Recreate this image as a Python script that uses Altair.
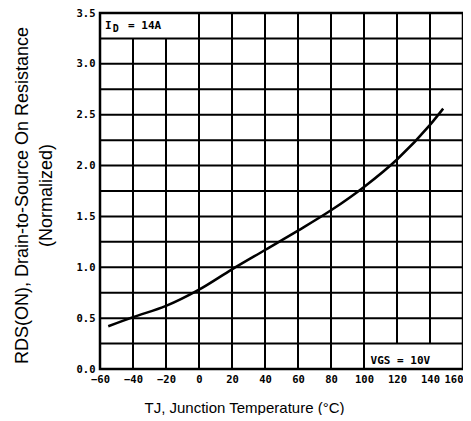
import altair as alt
import pandas as pd

# Curve: normalized on-resistance vs junction temperature
temp_c = [-55, -40, -20, 0, 20, 40, 60, 80, 100, 120, 140, 148]
rds_norm = [0.42, 0.51, 0.62, 0.78, 0.98, 1.17, 1.36, 1.56, 1.79, 2.06, 2.40, 2.56]

# Axis ticks
x_ticks = [-60, -40, -20, 0, 20, 40, 60, 80, 100, 120, 140, 160]
y_ticks = [0.0, 0.5, 1.0, 1.5, 2.0, 2.5, 3.0, 3.5]

# Grid (vertical lines are interrupted by the two label boxes)
grid_x = [-40, -20, 0, 20, 40, 60, 80, 100, 120, 140]
grid_x_from = [0, 0, 0, 0, 0, 0, 0, 0, 0.25, 0.25]
grid_x_to = [3.25, 3.25, 3.5, 3.5, 3.5, 3.5, 3.5, 3.5, 3.5, 3.5]
grid_y = [0.25, 0.5, 0.75, 1.0, 1.25, 1.5, 1.75, 2.0, 2.25, 2.5, 2.75, 3.0, 3.25]

# Annotations
ann_x = [-57, -52.3, -43, 104]
ann_y = [3.375, 3.375, 3.375, 0.08]
ann_text = ["I", "D", "=   14A", "VGS  =  10V"]

XMIN, XMAX, YMIN, YMAX = -60, 160, 0, 3.5
xs = alt.Scale(domain=[XMIN, XMAX], nice=False, zero=False)
ys = alt.Scale(domain=[YMIN, YMAX], nice=False, zero=False)

curve_df = pd.DataFrame({"T": temp_c, "R": rds_norm})
vgrid_df = pd.DataFrame({"x": grid_x, "y0": grid_x_from, "y1": grid_x_to})
hgrid_df = pd.DataFrame({"y": grid_y, "x0": [XMIN] * len(grid_y), "x1": [XMAX] * len(grid_y)})
ann_df = pd.DataFrame({"x": ann_x, "y": ann_y, "t": ann_text})

mono = "DejaVu Sans Mono"
sans = "Liberation Sans"

x_axis = alt.Axis(
    values=x_ticks, format="d", ticks=False, domain=False, grid=False,
    labelFont=mono, labelFontWeight="bold", labelFontSize=10.5, labelColor="black",
    labelOverlap=False, labelPadding=5,
    labelAlign={"condition": {"test": "datum.value == 160", "value": "right"}, "value": "center"},
    title="TJ, Junction Temperature (°C)", titleFont=sans, titleFontSize=15,
    titleFontWeight="normal", titleColor="black", titleX=144, titleY=43,
    titleAlign="center", titleBaseline="alphabetic",
)
y_axis = alt.Axis(
    values=y_ticks, format=".1f", ticks=False, domain=False, grid=False,
    labelFont=mono, labelFontWeight="bold", labelFontSize=10.5, labelColor="black",
    labelOverlap=False, labelPadding=5,
    title=["RDS(ON), Drain-to-Source On Resistance", "(Normalized)"],
    titleFont=sans, titleFontSize=18, titleFontWeight="normal", titleColor="black",
    titleX=-73, titleY=182, titleAngle=270, titleAlign="center",
    titleBaseline="alphabetic", titleLineHeight=24,
)

vgrid = alt.Chart(vgrid_df).mark_rule(color="black", strokeWidth=2).encode(
    x=alt.X("x:Q", scale=xs, axis=x_axis),
    y=alt.Y("y0:Q", scale=ys, axis=y_axis),
    y2="y1:Q",
)
hgrid = alt.Chart(hgrid_df).mark_rule(color="black", strokeWidth=2).encode(
    y=alt.Y("y:Q", scale=ys, axis=y_axis),
    x=alt.X("x0:Q", scale=xs, axis=x_axis),
    x2="x1:Q",
)
curve = alt.Chart(curve_df).mark_line(color="black", strokeWidth=2.5, interpolate="monotone").encode(
    x=alt.X("T:Q", scale=xs, axis=x_axis),
    y=alt.Y("R:Q", scale=ys, axis=y_axis),
)
ann_main = alt.Chart(ann_df).transform_filter("datum.t != 'D'").mark_text(
    font=mono, fontWeight="bold", fontSize=11, align="left", baseline="middle", color="black"
).encode(x=alt.X("x:Q", scale=xs, axis=x_axis), y=alt.Y("y:Q", scale=ys, axis=y_axis), text="t:N")
ann_sub = alt.Chart(ann_df).transform_filter("datum.t == 'D'").mark_text(
    font=mono, fontWeight="bold", fontSize=10, align="left", baseline="middle", color="black", dy=3
).encode(x=alt.X("x:Q", scale=xs, axis=x_axis), y=alt.Y("y:Q", scale=ys, axis=y_axis), text="t:N")

chart = alt.layer(vgrid, hgrid, curve, ann_main, ann_sub).properties(
    width=363, height=356,
    autosize=alt.AutoSizeParams(type="none"),
    padding={"left": 92, "top": 5, "right": 0, "bottom": 46},
    background="white",
).configure_view(
    stroke="black", strokeWidth=2.5
).configure_axis(
    labelOverlap=False, labelFlush=False
)

chart.save("out.html", embed_options={"renderer": "svg", "actions": False})
